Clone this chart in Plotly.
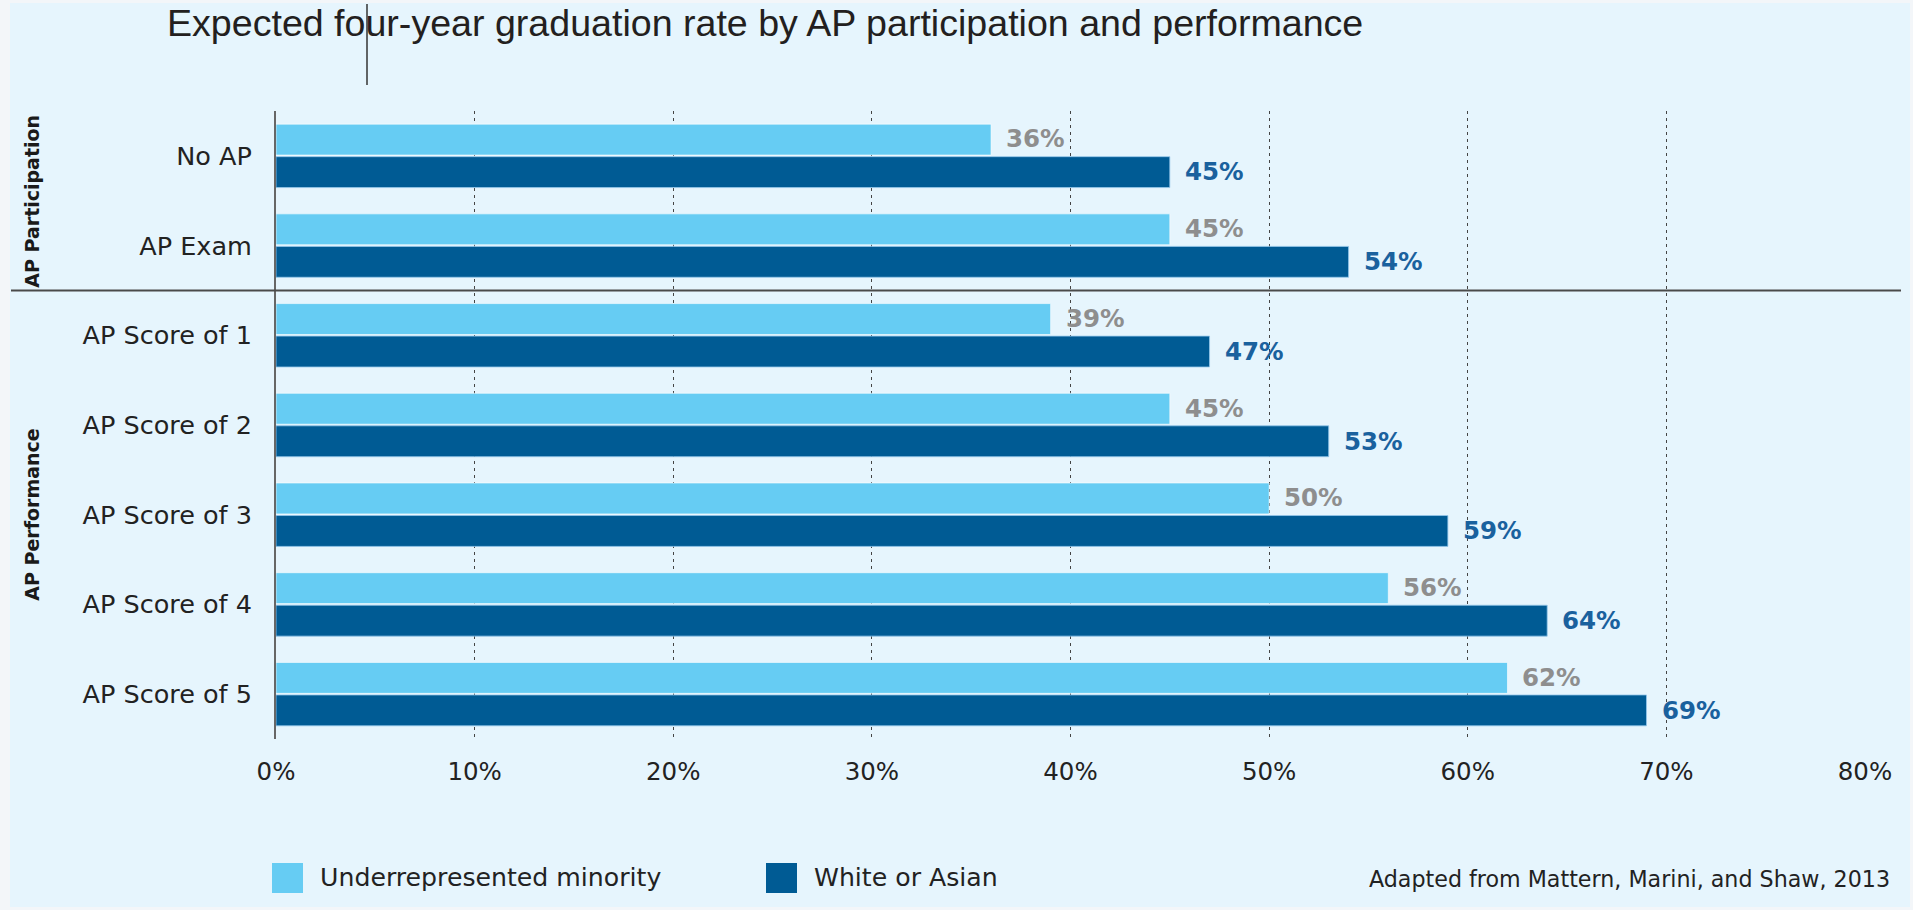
import plotly.graph_objects as go

categories = ["No AP", "AP Exam", "AP Score of 1", "AP Score of 2",
              "AP Score of 3", "AP Score of 4", "AP Score of 5"]
urm_values = [36, 45, 39, 45, 50, 56, 62]
wa_values = [45, 54, 47, 53, 59, 64, 69]
series_names = ["Underrepresented minority", "White or Asian"]
tick_values = [0, 10, 20, 30, 40, 50, 60, 70, 80]
tick_labels = ["0%", "10%", "20%", "30%", "40%", "50%", "60%", "70%", "80%"]
group_labels = ["AP Participation", "AP Performance"]
title_text = "Expected four-year graduation rate by AP participation and performance"
source_text = "Adapted from Mattern, Marini, and Shaw, 2013"

LIGHT = "#66CCF3"
DARK = "#005B94"
LIGHT_TXT = "#8E8E8E"
DARK_TXT = "#1A619E"
FONT = "DejaVu Sans, Verdana, sans-serif"

W, H = 1913, 910
L, R, T, B = 276, 48, 111, 171
PW = W - L - R
PH = H - T - B


def px_x(px):
    return (px - L) / PW


def px_y(py):
    return (H - B - py) / PH


fig = go.Figure()
fig.add_trace(go.Bar(
    y=categories, x=urm_values, orientation="h", name=series_names[0],
    marker=dict(color=LIGHT, line=dict(color="rgba(255,255,255,0.6)", width=1)),
    hoverinfo="x+y",
))
fig.add_trace(go.Bar(
    y=categories, x=wa_values, orientation="h", name=series_names[1],
    marker=dict(color=DARK, line=dict(color="rgba(150,200,235,0.8)", width=1)),
    hoverinfo="x+y",
))

annotations = []
for cat, v in zip(categories, urm_values):
    annotations.append(dict(x=v, y=cat, xref="x", yref="y", text=f"{v}%",
                            showarrow=False, xanchor="left", yanchor="middle",
                            xshift=13, yshift=17,
                            font=dict(family=FONT, size=24.5, color=LIGHT_TXT, weight="bold")))
for cat, v in zip(categories, wa_values):
    annotations.append(dict(x=v, y=cat, xref="x", yref="y", text=f"{v}%",
                            showarrow=False, xanchor="left", yanchor="middle",
                            xshift=13, yshift=-16,
                            font=dict(family=FONT, size=24.5, color=DARK_TXT, weight="bold")))

# group labels
for lbl, ypos in zip(group_labels, [0.5, 4]):
    annotations.append(dict(x=px_x(32), xref="paper", y=ypos, yref="y", text=lbl,
                            textangle=-90, showarrow=False, xanchor="center", yanchor="middle",
                            font=dict(family=FONT, size=19, color="#1a1a1a", weight="bold")))

# manual legend text
annotations.append(dict(x=px_x(318), xref="paper", y=px_y(878), yref="paper",
                        text=series_names[0], showarrow=False, xanchor="left", yanchor="middle",
                        font=dict(family=FONT, size=25.2, color="#222222")))
annotations.append(dict(x=px_x(812), xref="paper", y=px_y(878), yref="paper",
                        text=series_names[1], showarrow=False, xanchor="left", yanchor="middle",
                        font=dict(family=FONT, size=25.2, color="#222222")))
# source
annotations.append(dict(x=px_x(1892), xref="paper", y=px_y(879), yref="paper",
                        text=source_text, showarrow=False, xanchor="right", yanchor="middle",
                        font=dict(family=FONT, size=22.2, color="#222222")))

shapes = [
    # light blue panel
    dict(type="rect", xref="paper", yref="paper", x0=px_x(10), x1=px_x(1910),
         y0=px_y(907), y1=px_y(3), fillcolor="#E6F5FD", line=dict(width=0), layer="below"),
    # separator line
    dict(type="line", xref="paper", yref="y", x0=px_x(11), x1=px_x(1901), y0=1.5, y1=1.5,
         line=dict(color="#4a4a4a", width=2)),
    # legend swatches
    dict(type="rect", xref="paper", yref="paper", x0=px_x(272), x1=px_x(303),
         y0=px_y(893), y1=px_y(863), fillcolor=LIGHT, line=dict(width=0)),
    dict(type="rect", xref="paper", yref="paper", x0=px_x(766), x1=px_x(797),
         y0=px_y(893), y1=px_y(863), fillcolor=DARK, line=dict(width=0)),
    # cursor artefact near title
    dict(type="line", xref="paper", yref="paper", x0=px_x(367), x1=px_x(367),
         y0=px_y(85), y1=px_y(4), line=dict(color="#333333", width=1.5)),
]

fig.update_layout(
    width=W, height=H,
    margin=dict(l=L, r=R, t=T, b=B, pad=0, autoexpand=False),
    paper_bgcolor="#F3F6F9",
    plot_bgcolor="rgba(0,0,0,0)",
    barmode="group",
    bargap=0.275,
    bargroupgap=0.05,
    showlegend=False,
    title=dict(text=title_text, x=167 / W, xanchor="left", xref="container",
               y=1 - 23 / H, yanchor="middle", yref="container",
               font=dict(family="Liberation Sans, Arial, sans-serif", size=37.6, color="#231F20")),
    xaxis=dict(range=[0, 80], tickvals=tick_values, ticktext=tick_labels,
               showgrid=True, gridcolor="#444444", griddash="3px,4px", gridwidth=1,
               zeroline=False, showline=False, ticks="", automargin=False,
               ticklabelstandoff=15,
               tickfont=dict(family=FONT, size=24.5, color="#222222")),
    yaxis=dict(type="category", categoryorder="array", categoryarray=categories,
               autorange="reversed", showgrid=False, zeroline=False, automargin=False,
               showline=True, linecolor="#666666", linewidth=2, ticks="",
               ticklabelstandoff=17,
               tickfont=dict(family=FONT, size=25.5, color="#222222")),
    annotations=annotations,
    shapes=shapes,
)

fig.write_html("out.html", config={"displayModeBar": False},
               post_script="document.body.style.margin='0';document.body.style.overflow='hidden';")
